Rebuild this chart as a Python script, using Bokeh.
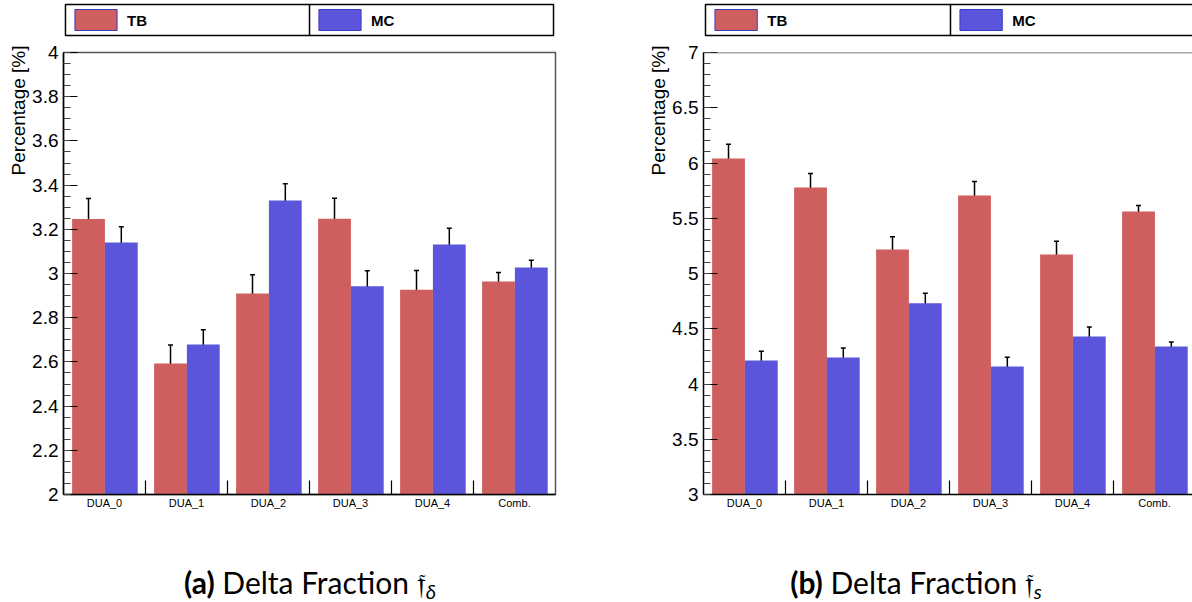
import numpy as np
from bokeh.plotting import figure
from bokeh.models import Range1d, FixedTicker, ColumnDataSource, Whisker, TeeHead, Title, Div, Span
from bokeh.layouts import row, column
from bokeh.embed import file_html
from bokeh.resources import INLINE

# ---------------- data ----------------
CATEGORIES = ["DUA_0", "DUA_1", "DUA_2", "DUA_3", "DUA_4", "Comb."]
SERIES = ["TB", "MC"]

DELTA_TB = [3.247, 2.593, 2.909, 3.248, 2.927, 2.964]
DELTA_TB_ERR = [0.092, 0.083, 0.085, 0.093, 0.087, 0.040]
DELTA_MC = [3.140, 2.679, 3.330, 2.942, 3.131, 3.027]
DELTA_MC_ERR = [0.072, 0.067, 0.076, 0.071, 0.074, 0.033]

S_TB = [6.041, 5.778, 5.218, 5.706, 5.173, 5.561]
S_TB_ERR = [0.129, 0.126, 0.115, 0.126, 0.118, 0.055]
S_MC = [4.212, 4.240, 4.730, 4.158, 4.430, 4.340]
S_MC_ERR = [0.085, 0.086, 0.091, 0.084, 0.086, 0.041]

DELTA_YTICKS = [2.0, 2.2, 2.4, 2.6, 2.8, 3.0, 3.2, 3.4, 3.6, 3.8, 4.0]
DELTA_YLABELS = ["2", "2.2", "2.4", "2.6", "2.8", "3", "3.2", "3.4", "3.6", "3.8", "4"]
S_YTICKS = [3.0, 3.5, 4.0, 4.5, 5.0, 5.5, 6.0, 6.5, 7.0]
S_YLABELS = ["3", "3.5", "4", "4.5", "5", "5.5", "6", "6.5", "7"]

Y_TITLE = "Percentage [%]"
CAPTIONS = [("(a)", "Delta Fraction \U0001D523", "\u03b4"),
            ("(b)", "Delta Fraction \U0001D523", "s")]

RED = "#CF5E5E"
BLUE = "#5A55DA"
FONT = "Liberation Sans"
CAP_FONT = "Lato"

FRAME_W = 492
FRAME_H = 442
LEFT = 63


def panel(tb, tb_err, mc, mc_err, yticks, ylabels, minor_step, fig_w, caption):
    frame_w = min(fig_w - LEFT, FRAME_W)
    clipped = frame_w < FRAME_W
    right_border = fig_w - LEFT - frame_w
    n = len(CATEGORIES)
    x_end = n * frame_w / FRAME_W

    # ---- legend strip (frame 2px larger than the box on each side) ----
    leg_frame_w = min(fig_w - LEFT + 2, FRAME_W + 4)
    leg = figure(width=fig_w, height=38, min_border_left=LEFT - 2,
                 min_border_right=fig_w - (LEFT - 2) - leg_frame_w,
                 min_border_top=2, min_border_bottom=1,
                 x_range=Range1d(-2, leg_frame_w - 2), y_range=Range1d(-2, 33),
                 x_axis_location=None, y_axis_location=None,
                 toolbar_location=None, output_backend="svg")
    leg.xgrid.visible = False
    leg.ygrid.visible = False
    leg.outline_line_color = None
    leg.quad(left=[0], right=[FRAME_W], bottom=[0], top=[31], fill_color=None,
             line_color="black", line_width=1.5)
    half = FRAME_W / 2
    leg.segment(x0=[half], y0=[0], x1=[half], y1=[31], line_color="black", line_width=1.5)
    cols = [RED, BLUE]
    for i, name in enumerate(SERIES):
        x0 = i * half
        leg.quad(left=[x0 + 9.5], right=[x0 + 52], bottom=[5], top=[26],
                 fill_color=cols[i], line_color="#3a3ac8", line_width=1)
        leg.text(x=[x0 + 62], y=[15.5], text=[name], text_font_size="15px",
                 text_font_style="bold", text_baseline="middle", text_align="left",
                 text_font={"value": FONT}, text_color="black")

    # ---- main plot ----
    p = figure(width=fig_w, height=512, min_border_left=LEFT, min_border_right=right_border,
               min_border_top=14, min_border_bottom=56,
               x_range=Range1d(0, x_end), y_range=Range1d(yticks[0], yticks[-1]),
               toolbar_location=None, output_backend="svg")
    p.xgrid.visible = False
    p.ygrid.visible = False
    if clipped:
        p.outline_line_color = None
        p.add_layout(Span(location=yticks[-1], dimension="width", line_color="#555555",
                          line_width=1.5))
    else:
        p.outline_line_color = "#555555"
        p.outline_line_width = 1.5

    xs = np.arange(n)
    src = ColumnDataSource(dict(
        xt=xs + 0.305, xm=xs + 0.705, tb=tb, mc=mc,
        tb_lo=np.array(tb) - np.array(tb_err), tb_hi=np.array(tb) + np.array(tb_err),
        mc_lo=np.array(mc) - np.array(mc_err), mc_hi=np.array(mc) + np.array(mc_err)))
    base = yticks[0]
    p.vbar(x="xt", top="tb", bottom=base, width=0.4, fill_color=RED, line_color=None, source=src)
    p.vbar(x="xm", top="mc", bottom=base, width=0.4, fill_color=BLUE, line_color=None, source=src)
    for b, lo, hi in (("xt", "tb_lo", "tb_hi"), ("xm", "mc_lo", "mc_hi")):
        w = Whisker(base=b, lower=lo, upper=hi, source=src, line_color="black", line_width=1.5,
                    upper_head=TeeHead(size=5, line_color="black", line_width=1.5),
                    lower_head=TeeHead(size=5, line_color="black", line_width=1.5))
        p.add_layout(w)

    centers = [float(i) + 0.5 for i in range(n)]
    p.xaxis.ticker = FixedTicker(ticks=centers, minor_ticks=[float(i) for i in range(1, n)])
    p.xaxis.major_label_overrides = {c: lab for c, lab in zip(centers, CATEGORIES)}
    p.xaxis.major_tick_in = 0
    p.xaxis.major_tick_out = 0
    p.xaxis.minor_tick_in = 14
    p.xaxis.minor_tick_out = 0
    p.xaxis.minor_tick_line_color = "black"
    p.xaxis.minor_tick_line_width = 1.2
    p.xaxis.axis_line_width = 1.5
    p.xaxis.axis_line_color = "black"
    p.xaxis.major_label_text_font = FONT
    p.xaxis.major_label_text_font_size = "11px"
    p.xaxis.major_label_standoff = 2
    p.xaxis.major_label_text_color = "black"

    minor = list(np.round(np.arange(yticks[0], yticks[-1] + 1e-9, minor_step), 4))
    p.yaxis.ticker = FixedTicker(ticks=yticks, minor_ticks=minor)
    p.yaxis.major_label_overrides = {t: lab for t, lab in zip(yticks, ylabels)}
    p.yaxis.major_tick_in = 14
    p.yaxis.major_tick_out = 0
    p.yaxis.minor_tick_in = 7
    p.yaxis.minor_tick_out = 0
    p.yaxis.major_tick_line_color = "black"
    p.yaxis.minor_tick_line_color = "#444444"
    p.yaxis.axis_line_width = 1.5
    p.yaxis.axis_line_color = "black"
    p.yaxis.major_label_text_font = FONT
    p.yaxis.major_label_text_font_size = "19px"
    p.yaxis.major_label_standoff = 5
    p.yaxis.major_label_text_color = "black"

    p.add_layout(Title(text=Y_TITLE, align="right", text_font=FONT, text_font_size="19px",
                       text_font_style="normal", text_color="black", standoff=2,
                       offset=-7), "left")

    # ---- caption ----
    tag, body, sub = caption
    html = (f'<div style="width:{fig_w}px;height:52px;box-sizing:border-box;padding-top:18px;'
            f'padding-right:{fig_w - 620}px;text-align:center;font-family:{CAP_FONT};'
            f'font-size:30px;color:black;white-space:nowrap;line-height:28px">'
            f'<b>{tag}</b> {body}<span style="font-size:20px;font-style:italic;'
            f'vertical-align:-5px;line-height:20px">{sub}</span></div>')
    cap = Div(text=html, width=fig_w, height=52, margin=(0, 0, 0, 0))

    return column(leg, p, cap, spacing=0)


left = panel(DELTA_TB, DELTA_TB_ERR, DELTA_MC, DELTA_MC_ERR, DELTA_YTICKS, DELTA_YLABELS,
             0.05, 640, CAPTIONS[0])
right = panel(S_TB, S_TB_ERR, S_MC, S_MC_ERR, S_YTICKS, S_YLABELS, 0.1, 552, CAPTIONS[1])

layout = row(left, right, spacing=0)
open("out.html", "w").write(file_html(layout, INLINE))
